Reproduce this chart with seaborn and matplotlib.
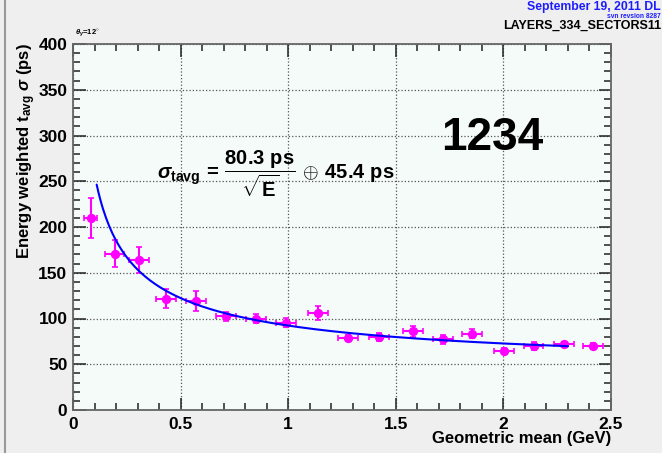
import numpy as np
import pandas as pd
import seaborn as sns
import matplotlib.pyplot as plt
from matplotlib.ticker import MultipleLocator
from matplotlib.lines import Line2D

energy = [0.083, 0.194, 0.306, 0.431, 0.573, 0.711, 0.850, 0.989, 1.139,
          1.279, 1.421, 1.580, 1.718, 1.853, 2.003, 2.140, 2.282, 2.417]
sigma = [209.6, 170.8, 164.0, 121.7, 118.8, 102.4, 99.9, 95.2, 106.0,
         78.8, 79.9, 86.1, 77.4, 83.2, 65.0, 70.1, 71.6, 70.1]
sigma_err = [22, 15, 14, 10, 11, 5, 5, 5, 8, 3, 4, 6, 5, 5, 3, 4, 3, 3]
energy_err = [0.03, 0.045, 0.045, 0.046, 0.046, 0.046, 0.046, 0.046, 0.046,
              0.046, 0.046, 0.046, 0.046, 0.046, 0.046, 0.046, 0.046, 0.046]

# fit parameters shown on the plot
fit_stoch = 80.3
fit_const = 45.4
fit_lo, fit_hi = 0.11, 2.30

df = pd.DataFrame({'E': energy, 'sigma': sigma})
fe = np.linspace(fit_lo, fit_hi, 300)
fit = pd.DataFrame({'E': fe, 'sigma': np.sqrt(fit_stoch ** 2 / fe + fit_const ** 2)})

sns.set_style('ticks', {'axes.facecolor': '#f5fbf8', 'figure.facecolor': '#efefef',
                        'text.color': 'black', 'xtick.color': 'black', 'ytick.color': 'black',
                        'axes.labelcolor': 'black'})
plt.rcParams['font.family'] = ['Liberation Sans', 'DejaVu Sans']
plt.rcParams['font.weight'] = 'bold'
plt.rcParams['mathtext.fontset'] = 'custom'
plt.rcParams['mathtext.rm'] = 'Liberation Sans:bold'
plt.rcParams['mathtext.bf'] = 'Liberation Sans:bold'
plt.rcParams['mathtext.it'] = 'Liberation Sans:italic'

fig = plt.figure(figsize=(6.62, 4.53), dpi=100)
ax = fig.add_axes([73 / 662, 1 - 410 / 453, 538 / 662, 366 / 453])

ax.errorbar(energy, sigma, yerr=sigma_err, xerr=energy_err, fmt='none',
            ecolor='#ff00ff', elinewidth=1.5, capsize=2.5, capthick=1.2, zorder=3)
sns.scatterplot(data=df, x='E', y='sigma', ax=ax, color='#ff00ff', s=45,
                edgecolor='#ff00ff', linewidth=0, zorder=4)
sns.lineplot(data=fit, x='E', y='sigma', ax=ax, color='#0000ff', lw=1.5, zorder=5)

ax.set_xlim(0, 2.5)
ax.set_ylim(0, 400)
ax.xaxis.set_major_locator(MultipleLocator(0.5))
ax.xaxis.set_minor_locator(MultipleLocator(0.1))
ax.yaxis.set_major_locator(MultipleLocator(50))
ax.yaxis.set_minor_locator(MultipleLocator(10))
ax.set_xticks([0, 0.5, 1, 1.5, 2, 2.5], ['0', '0.5', '1', '1.5', '2', '2.5'])
ax.tick_params(which='both', direction='in', top=True, right=True,
               labelsize=12.5, width=1.1, color='#222222', labelcolor='black')
ax.tick_params(which='major', length=9)
ax.tick_params(which='minor', length=5)
ax.tick_params(axis='x', pad=5)
ax.tick_params(axis='y', pad=4)
for lab in ax.get_xticklabels() + ax.get_yticklabels():
    lab.set_fontweight('bold')
ax.grid(True, which='major', ls=':', color='#555555', lw=0.9)
for s in ax.spines.values():
    s.set_color('#666666')
    s.set_linewidth(1.3)
ax.set_xlabel('')
ax.set_ylabel('')

fig.text(611 / 662, 1 - 439 / 453, 'Geometric mean (GeV)', ha='right', va='center',
         fontsize=12, fontweight='bold', color='black')
fig.text(27 / 662, 1 - 43 / 453, r'Energy weighted t$_{\mathbf{avg}}$ $\sigma$ (ps)',
         rotation=90, ha='center', va='top', fontsize=12, fontweight='bold', color='black')

ax.text(0.39, 258, r'$\mathit{\sigma}_{\mathbf{tavg}}\,\mathbf{=}\,\dfrac{\mathbf{80.3\ ps}}{\sqrt{\mathbf{E}}}\,\oplus\,\mathbf{45.4\ ps}$',
        fontsize=14.5, ha='left', va='center', color='black')
ax.text(1.95, 297, '1234', fontsize=33, fontweight='bold', ha='center', va='center',
        color='black')

fig.text(75 / 662, 1 - 35 / 453, r'$\mathit{\theta}_{\gamma}$=12$^{\circ}$', fontsize=5.5,
         fontweight='bold', ha='left', va='baseline', color='black')
fig.text(661 / 662, 1 - 10 / 453, 'September 19, 2011 DL', color='#1c1cff', fontsize=8.8,
         fontweight='bold', ha='right', va='baseline')
fig.text(661 / 662, 1 - 18 / 453, 'svn revsion 8287', color='#1c1cff', fontsize=4.8,
         fontweight='bold', ha='right', va='baseline')
fig.text(661 / 662, 1 - 29 / 453, 'LAYERS_334_SECTORS11', color='black', fontsize=9,
         fontweight='bold', ha='right', va='baseline')

fig.add_artist(Line2D([4.5 / 662, 4.5 / 662], [0, 1], color='#999999', lw=1.5))

fig.savefig('out.png', dpi=100, facecolor=fig.get_facecolor())
